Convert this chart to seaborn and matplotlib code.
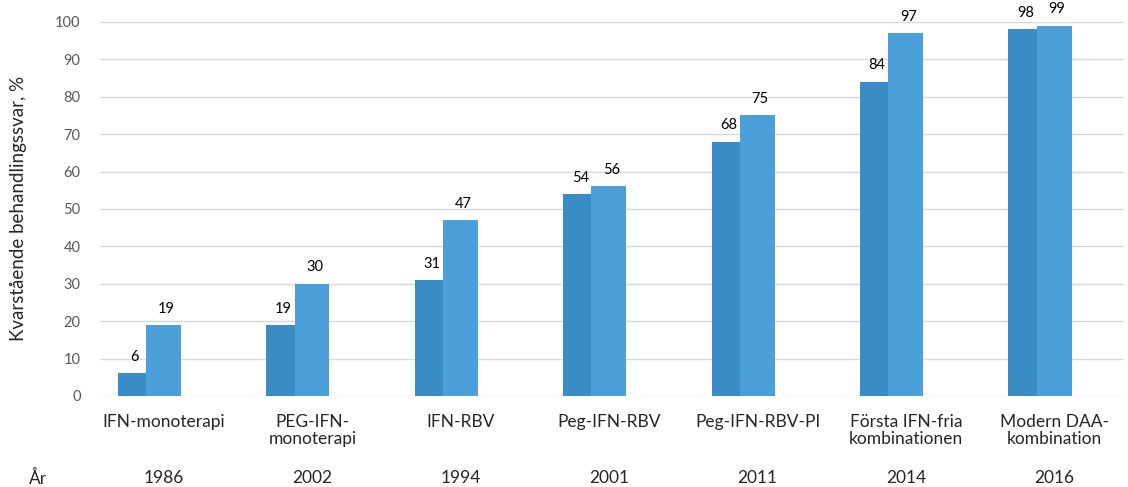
import pandas as pd
import seaborn as sns
import matplotlib.pyplot as plt

sns.set_style('white')
plt.rcParams['font.family'] = ['Lato', 'DejaVu Sans']

# data
behandlingar = ['IFN-monoterapi', 'PEG-IFN-\nmonoterapi', 'IFN-RBV', 'Peg-IFN-RBV',
                'Peg-IFN-RBV-PI', 'Första IFN-fria\nkombinationen', 'Modern DAA-\nkombination']
ar = ['1986', '2002', '1994', '2001', '2011', '2014', '2016']
serie_1 = [6, 19, 31, 54, 68, 84, 98]
serie_2 = [19, 30, 47, 56, 75, 97, 99]

df = pd.DataFrame({'behandling': behandlingar * 2,
                   'serie': ['s1'] * 7 + ['s2'] * 7,
                   'varde': serie_1 + serie_2})

fig = plt.figure(figsize=(11.28, 4.87), dpi=100)
ax = fig.add_axes([0.0887, 0.187, 0.908, 0.768])

g = sns.barplot(data=df, x='behandling', y='varde', hue='serie',
                palette=['#3a8cc4', '#4ba0d9'], saturation=1, errorbar=None,
                legend=False, ax=ax, zorder=3)

# bar placement like the original (dark bar narrow, light bar right next to it)
for i, cont in enumerate(ax.containers):
    for j, p in enumerate(cont.patches):
        if i == 0:
            p.set_x(j - 0.31)
            p.set_width(0.19)
        else:
            p.set_x(j - 0.12)
            p.set_width(0.235)
        p.set_edgecolor('none')
        h = p.get_height()
        ax.text(p.get_x() + p.get_width() / 2 + 0.02, h + 2.5, f'{h:.0f}',
                ha='center', va='bottom', fontsize=10.5, color='black')

ax.set_xlim(-0.43, 6.47)
ax.set_ylim(0, 100)
ax.set_yticks(range(0, 101, 10))
ax.yaxis.grid(True, color='#d9d9d9', lw=1)
ax.set_axisbelow(True)
sns.despine(left=True, bottom=True)
ax.tick_params(axis='y', length=0, labelsize=10.5, labelcolor='#595959', pad=14)
ax.tick_params(axis='x', length=0, labelsize=12.5, pad=13)
for t in ax.get_xticklabels():
    t.set_linespacing(1.1)
ax.set_xlabel('')
ax.set_ylabel('Kvarstående behandlingssvar, %', fontsize=13.5)
ax.yaxis.set_label_coords(-0.071, 0.5)

# year row
for j, a in enumerate(ar):
    ax.text(j, -22, a, ha='center', va='center', fontsize=12.5)
ax.text(-0.85, -22, 'År', ha='center', va='center', fontsize=12.5)

plt.savefig('out.png', dpi=100)
